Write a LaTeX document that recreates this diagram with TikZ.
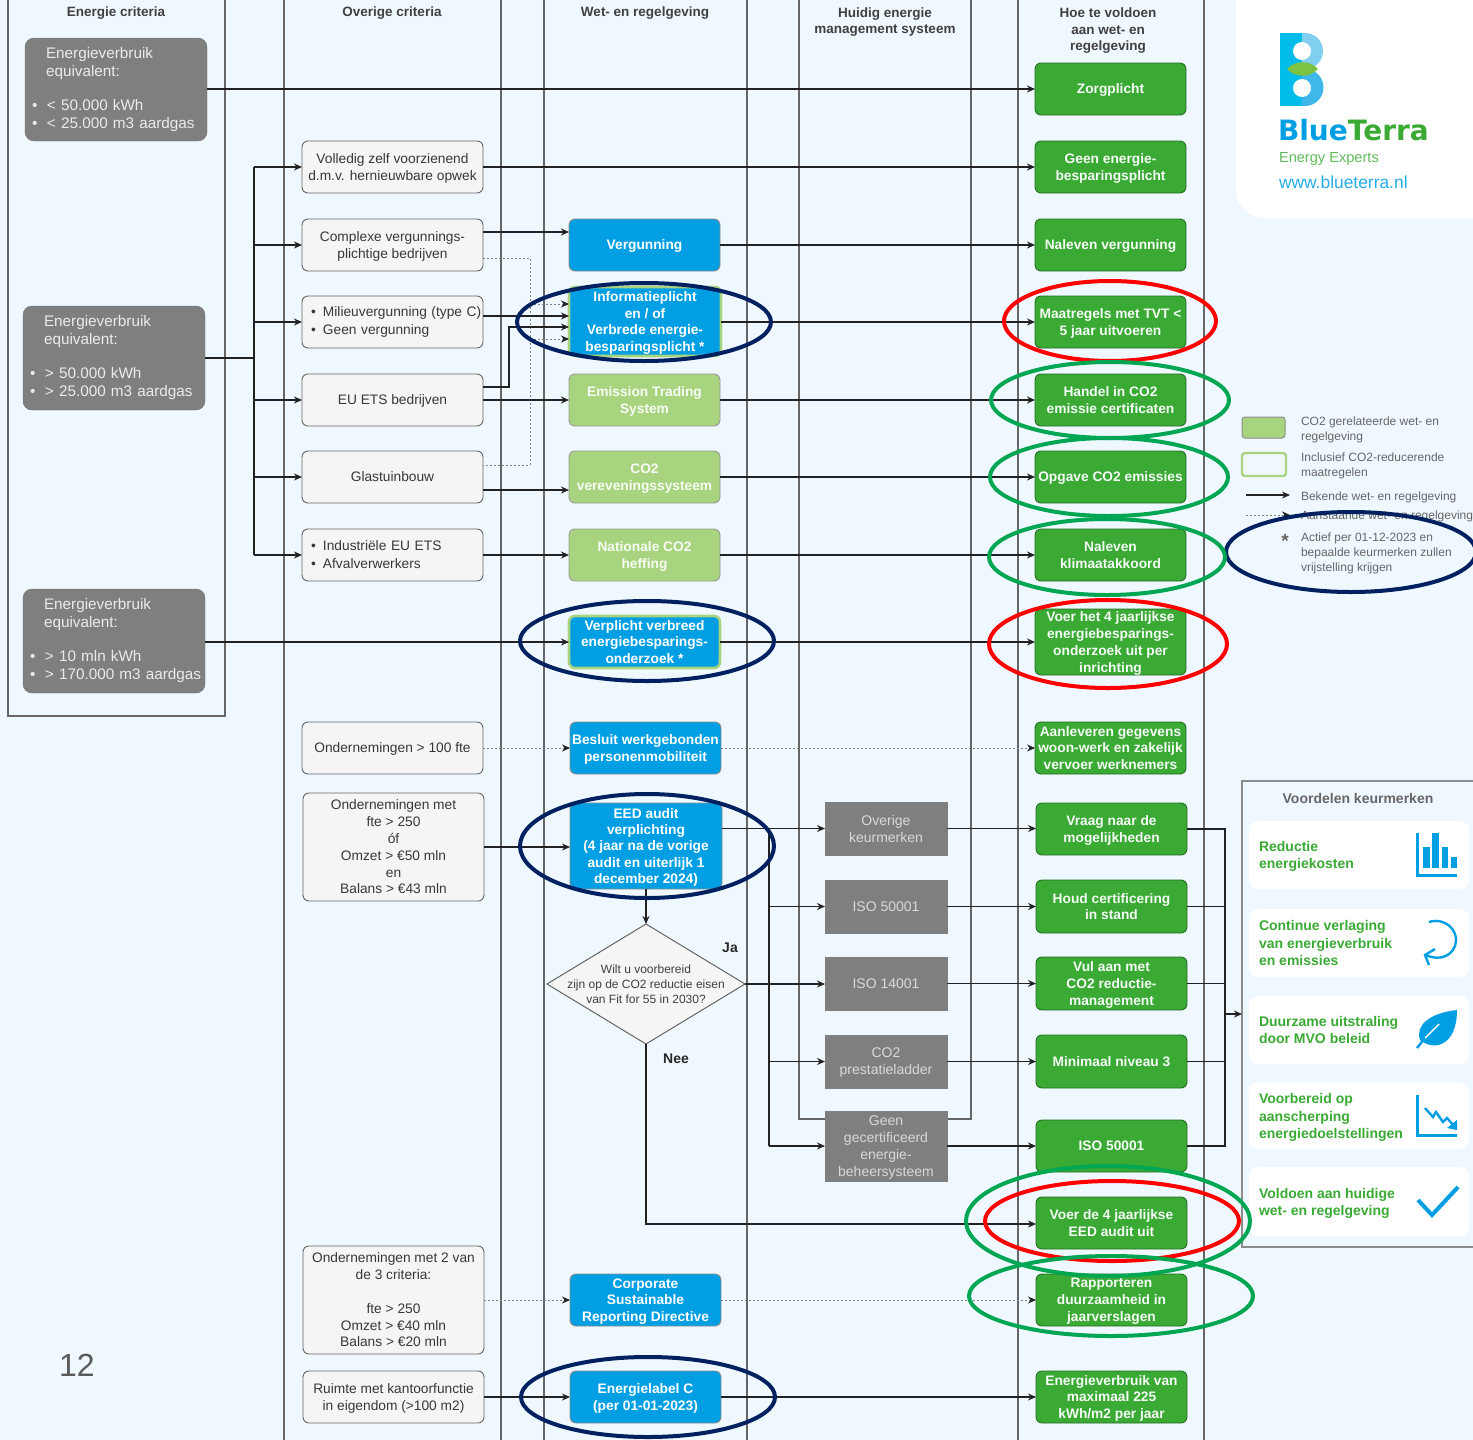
\documentclass[tikz,border=0pt]{standalone}
\usepackage{fontspec}
\setmainfont{Liberation Sans}
\newfontfamily\logofont{DejaVu Sans}
\usetikzlibrary{arrows.meta,shapes.geometric}
\definecolor{bgc}{HTML}{F0F8FF}
\definecolor{lanec}{HTML}{666666}
\definecolor{linec}{HTML}{222222}
\definecolor{bluec}{HTML}{009FE3}
\definecolor{greenc}{HTML}{3AAA35}
\definecolor{lgreenc}{HTML}{A9D47F}
\definecolor{grayc}{HTML}{7F7F7F}
\definecolor{lightc}{HTML}{F5F5F5}
\definecolor{navyc}{HTML}{002060}
\definecolor{redc}{HTML}{FF0000}
\definecolor{ringg}{HTML}{00A651}
\definecolor{lensc}{HTML}{7DC242}
\newcommand\bx[7]{\node[#2,minimum width={(#5-#3)*1pt},minimum height={(#6-#4)*1pt}] (#1) at ({(#3+#5)/2},{(#4+#6)/2}) {#7};}
\newcommand\bul{\makebox[12pt][l]{\textbullet}}
\newcommand\critbul{\hspace{4pt}\bul\hspace{3pt}}
\newcommand\listbul{\hspace{8pt}\bul}
\newcommand\ring[5]{\draw[#1,line width=4pt] (#2,#3) ellipse[x radius=#4,y radius=#5];}
\tikzset{
  base/.style={inner sep=0pt,outer sep=0pt,align=center,text depth=0pt,font=\fontsize{13.75}{16.8}\selectfont},
  critbox/.style={base,text depth=,fill=grayc,draw=grayc!90!black,rounded corners=9pt,text=white!92!black,align=left,text width=176pt,font=\fontsize{15.3}{18}\selectfont},
  lightbox/.style={base,fill=lightc,draw=lanec,line width=.9pt,rounded corners=6pt,text=black!78},
  lightlist/.style={base,text depth=,fill=lightc,draw=lanec,line width=.9pt,rounded corners=6pt,text=black!78,align=left,text width=179pt,font=\fontsize{13.75}{18}\selectfont},
  bluebox/.style={base,fill=bluec,draw=black!45,line width=.9pt,rounded corners=6pt,text=white,font=\fontsize{13.75}{16.4}\selectfont\bfseries},
  infobox/.style={base,fill=bluec,draw=lgreenc,line width=2.6pt,rounded corners=6pt,text=white,font=\fontsize{13.75}{16.8}\selectfont\bfseries},
  co2box/.style={base,fill=lgreenc,draw=black!40,line width=.9pt,rounded corners=6pt,text=white!92!lgreenc,font=\fontsize{13.75}{16.8}\selectfont\bfseries},
  doebox/.style={base,fill=greenc,draw=black!35!greenc,line width=.9pt,rounded corners=6pt,text=white!95!greenc,font=\fontsize{13.75}{16.8}\selectfont\bfseries},
  certbox/.style={base,fill=grayc,draw=grayc,text=white!85!black,font=\fontsize{14}{17}\selectfont},
  lane/.style={draw=lanec,line width=1.1pt},
  lanehead/.style={base,text=black!75,font=\fontsize{13.5}{16.5}\selectfont\bfseries},
  arr/.style={draw=linec,line width=1.3pt,-{Stealth[length=8pt,width=7pt]}},
  plain/.style={draw=linec,line width=1.3pt},
  dotarr/.style={draw=black!50,line width=1pt,dash pattern=on 2pt off 2pt,-{Stealth[length=8pt,width=7pt,color=linec]}},
  dotplain/.style={draw=black!50,line width=1pt,dash pattern=on 2pt off 2pt},
  legtext/.style={base,anchor=west,align=left,text=black!60,font=\fontsize{12}{15}\selectfont},
  cardtext/.style={base,anchor=west,align=left,text=greenc,font=\fontsize{14}{17.4}\selectfont\bfseries},
  card/.style={fill=white,rounded corners=9pt,draw=none},
  icon/.style={draw=bluec,line width=3pt},
}
\begin{document}
\begin{tikzpicture}[x=1pt,y=-1pt]
\useasboundingbox (0,0) rectangle (1473,1440);
\clip (0,0) rectangle (1473,1440);
\fill[bgc] (0,0) rectangle (1473,1440);

% lanes
\draw[lane] (8,-5) rectangle (225,716);
\draw[lane] (284,-5) rectangle (501,1445);
\draw[lane] (544,-5) rectangle (747,1445);
\draw[lane] (799,-5) rectangle (971,1119);
\draw[lane] (1018,-5) rectangle (1204,1445);
\node[lanehead] (h1) at (116,12) {Energie criteria};
\node[lanehead] (h2) at (392,12) {Overige criteria};
\node[lanehead] (h3) at (645,12) {Wet- en regelgeving};
\node[lanehead] (h4) at (885,20.5) {Huidig energie\\management systeem};
\node[lanehead] (h5) at (1108,29.5) {Hoe te voldoen\\aan wet- en\\regelgeving};

% logo panel
\fill[white,rounded corners=28pt] (1236,-40) rectangle (1520,218);
\fill[bluec!70!cyan] (1280,33) rectangle (1303,106);
\fill[bluec!50!white] (1302,33) -- (1305,33) arc[start angle=-90,end angle=90,radius=18] -- (1302,69) -- cycle;
\fill[bluec!75!white] (1302,69) -- (1305,69) arc[start angle=-90,end angle=90,radius=18.5] -- (1302,106) -- cycle;
\fill[white] (1302,51) circle[radius=9];
\fill[white] (1302,88) circle[radius=9];
\fill[lensc] (1287,69) .. controls (1295,60) and (1310,60) .. (1318,69) .. controls (1310,78) and (1295,78) .. (1287,69) -- cycle;
\node[base,anchor=west,font=\fontsize{28}{30}\logofont\bfseries] (logo) at (1278,130) {\textcolor{bluec}{Blue}\textcolor{greenc}{Terra}};
\node[base,anchor=west,text=greenc!80!white,font=\fontsize{14.6}{16}\selectfont] (logo2) at (1279,157) {Energy Experts};
\node[base,anchor=west,text=bluec!85!white,font=\fontsize{17.4}{18}\selectfont] (logo3) at (1279,182) {www.blueterra.nl};

% criteria
\bx{c1}{critbox}{25}{38}{207}{141}{\hspace{18pt}Energieverbruik\\\hspace{18pt}equivalent:\\[-1pt]\mbox{}\\[-1pt]\critbul< 50.000 kWh\\\critbul< 25.000 m3 aardgas}
\bx{c2}{critbox}{23}{306}{205}{410}{\hspace{18pt}Energieverbruik\\\hspace{18pt}equivalent:\\[-1pt]\mbox{}\\[-1pt]\critbul> 50.000 kWh\\\critbul> 25.000 m3 aardgas}
\bx{c3}{critbox}{23}{589}{205}{693}{\hspace{18pt}Energieverbruik\\\hspace{18pt}equivalent:\\[-1pt]\mbox{}\\[-1pt]\critbul> 10 mln kWh\\\critbul> 170.000 m3 aardgas}

% overige
\bx{o1}{lightbox}{302}{141}{483}{193}{Volledig zelf voorzienend\\d.m.v. hernieuwbare opwek}
\bx{o2}{lightbox}{302}{219}{483}{271}{Complexe vergunnings-\\plichtige bedrijven}
\bx{o3}{lightlist}{302}{296}{483}{348}{\listbul Milieuvergunning (type C)\\\listbul Geen vergunning}
\bx{o4}{lightbox}{302}{374}{483}{426}{EU ETS bedrijven}
\bx{o5}{lightbox}{302}{451}{483}{503}{Glastuinbouw}
\bx{o6}{lightlist}{302}{529}{483}{581}{\listbul Industriële EU ETS\\\listbul Afvalverwerkers}
\bx{o7}{lightbox}{302}{722}{483}{774}{Ondernemingen > 100 fte}
\bx{o8}{lightbox}{303}{793}{484}{901}{Ondernemingen met\\fte > 250\\óf\\Omzet > €50 mln\\en\\Balans > €43 mln}
\bx{o9}{lightbox}{303}{1246}{484}{1354}{Ondernemingen met 2 van\\de 3 criteria:\\\mbox{}\\fte > 250\\Omzet > €40 mln\\Balans > €20 mln}
\bx{o10}{lightbox}{303}{1371}{484}{1423}{Ruimte met kantoorfunctie\\in eigendom (>100 m2)}

% wet- en regelgeving
\bx{w1}{bluebox}{569}{219}{720}{271}{Vergunning}
\bx{w2}{infobox}{569}{287}{721}{356}{Informatieplicht\\en / of\\Verbrede energie-\\besparingsplicht *}
\bx{w3}{co2box}{569}{374}{720}{426}{Emission Trading\\System}
\bx{w4}{co2box}{569}{451}{720}{503}{CO2\\vereveningssysteem}
\bx{w5}{co2box}{569}{529}{720}{581}{Nationale CO2\\heffing}
\bx{w6}{infobox}{569}{616}{720}{668}{Verplicht verbreed\\energiebesparings-\\onderzoek *}
\bx{w7}{bluebox}{570}{722}{721}{774}{Besluit werkgebonden\\personenmobiliteit}
\bx{w8}{bluebox}{570}{803}{722}{889}{EED audit\\verplichting\\(4 jaar na de vorige\\audit en uiterlijk 1\\december 2024)}
\bx{w9}{bluebox}{570}{1274}{721}{1326}{Corporate\\Sustainable\\Reporting Directive}
\bx{w10}{bluebox}{570}{1371}{721}{1423}{Energielabel C\\(per 01-01-2023)}
\node[diamond,aspect=1.65,fill=lightc,draw=lanec,line width=1pt,inner sep=0pt,outer sep=0pt,minimum width=198pt,minimum height=120pt,
  label={[base,text=black!75,font=\fontsize{12}{15}\selectfont]center:Wilt u voorbereid\\zijn op de CO2 reductie eisen\\van Fit for 55 in 2030?}] (dia) at (646,984) {};
\node[base,font=\fontsize{14}{16}\selectfont\bfseries,text=black!85] (ja) at (730,948) {Ja};
\node[base,font=\fontsize{14}{16}\selectfont\bfseries,text=black!85] (nee) at (676,1059) {Nee};

% huidig
\bx{k1}{certbox}{825}{802}{947}{855}{Overige\\keurmerken}
\bx{k2}{certbox}{825}{880}{947}{933}{ISO 50001}
\bx{k3}{certbox}{825}{957}{947}{1010}{ISO 14001}
\bx{k4}{certbox}{825}{1035}{947}{1088}{CO2\\prestatieladder}
\bx{k5}{certbox}{825}{1111}{947}{1181}{Geen\\gecertificeerd\\energie-\\beheersysteem}

% hoe te voldoen
\bx{d1}{doebox}{1035}{63}{1186}{115}{Zorgplicht}
\bx{d2}{doebox}{1035}{141}{1186}{193}{Geen energie-\\besparingsplicht}
\bx{d3}{doebox}{1035}{219}{1186}{271}{Naleven vergunning}
\bx{d4}{doebox}{1035}{296}{1186}{348}{Maatregels met TVT <\\5 jaar uitvoeren}
\bx{d5}{doebox}{1035}{374}{1186}{426}{Handel in CO2\\emissie certificaten}
\bx{d6}{doebox}{1035}{451}{1186}{503}{Opgave CO2 emissies}
\bx{d7}{doebox}{1035}{529}{1186}{581}{Naleven\\klimaatakkoord}
\bx{d8}{doebox}{1035}{609}{1186}{675}{Voer het 4 jaarlijkse\\energiebesparings-\\onderzoek uit per\\inrichting}
\bx{d9}{doebox}{1035}{722}{1186}{774}{Aanleveren gegevens\\woon-werk en zakelijk\\vervoer werknemers}
\bx{d10}{doebox}{1036}{803}{1187}{855}{Vraag naar de\\mogelijkheden}
\bx{d11}{doebox}{1036}{880}{1187}{933}{Houd certificering\\in stand}
\bx{d12}{doebox}{1036}{957}{1187}{1010}{Vul aan met\\CO2 reductie-\\management}
\bx{d13}{doebox}{1036}{1035}{1187}{1088}{Minimaal niveau 3}
\bx{d14}{doebox}{1036}{1120}{1187}{1172}{ISO 50001}
\bx{d15}{doebox}{1036}{1197}{1187}{1249}{Voer de 4 jaarlijkse\\EED audit uit}
\bx{d16}{doebox}{1036}{1274}{1187}{1326}{Rapporteren\\duurzaamheid in\\jaarverslagen}
\bx{d17}{doebox}{1036}{1371}{1187}{1423}{Energieverbruik van\\maximaal 225\\kWh/m2 per jaar}

% keurmerken panel
\draw[draw=black!45,line width=1.2pt] (1480,781) -- (1242,781) -- (1242,1247) -- (1480,1247);
\coordinate (panelw) at (1242,1014);
\node[base,text=black!60,font=\fontsize{14}{16}\selectfont\bfseries] (vk) at (1358,798) {Voordelen keurmerken};
\fill[card] (1249,821) rectangle (1469,889);
\fill[card] (1249,909) rectangle (1469,977);
\fill[card] (1249,996) rectangle (1469,1064);
\fill[card] (1249,1082) rectangle (1469,1149);
\fill[card] (1249,1167) rectangle (1469,1236);
\node[cardtext] (t1) at (1259,855) {Reductie\\energiekosten};
\node[cardtext] (t2) at (1259,943) {Continue verlaging\\van energieverbruik\\en emissies};
\node[cardtext] (t3) at (1259,1030) {Duurzame uitstraling\\door MVO beleid};
\node[cardtext] (t4) at (1259,1116) {Voorbereid op\\aanscherping\\energiedoelstellingen};
\node[cardtext] (t5) at (1259,1202) {Voldoen aan huidige\\wet- en regelgeving};
% icons
\draw[icon] (1417,833) -- (1417,875) -- (1457,875);
\fill[bluec] (1423,847) rectangle (1430,868);
\fill[bluec] (1432,833) rectangle (1439,868);
\fill[bluec] (1442,847) rectangle (1448,868);
\fill[bluec] (1451,857) rectangle (1457,868);
\draw[icon,line width=2.4pt] (1429,922) .. controls (1445,917) and (1457,930) .. (1456,941) .. controls (1455,955) and (1440,962) .. (1426,955);
\draw[icon,line width=2.4pt] (1435,949) -- (1425,955) -- (1429,965);
\fill[bluec] (1457,1010) .. controls (1430,1013) and (1415,1025) .. (1420,1040) .. controls (1435,1052) and (1457,1045) .. (1457,1010) -- cycle;
\draw[icon,line width=2.4pt] (1417,1048) -- (1425,1038);
\draw[white,line width=1.4pt] (1425,1038) -- (1439,1024);
\draw[icon] (1417,1095) -- (1417,1135) -- (1457,1135);
\draw[bluec,line width=2.4pt] (1425,1108) -- (1433,1117) -- (1436,1112) -- (1443,1122) -- (1447,1118) -- (1455,1127);
\fill[bluec] (1457,1130) -- (1457,1120) -- (1447,1128) -- cycle;
\draw[bluec,line width=4pt] (1418,1200) -- (1432,1215) -- (1458,1187);

% legend
\fill[lgreenc,draw=black!45,line width=1pt,rounded corners=3pt] (1242,417) rectangle (1285,438);
\draw[lgreenc,line width=2.4pt,rounded corners=3pt] (1242,453) rectangle (1286,476);
\node[legtext] (l1) at (1301,428.5) {CO2 gerelateerde wet- en\\regelgeving};
\node[legtext] (l2) at (1301,465) {Inclusief CO2-reducerende\\maatregelen};
\coordinate (la1) at (1246,495); \coordinate (lb1) at (1290,495);
\coordinate (la2) at (1246,515); \coordinate (lb2) at (1290,515);
\node[legtext] (l3) at (1301,496) {Bekende wet- en regelgeving};
\node[legtext] (l4) at (1301,515) {Aanstaande wet- en regelgeving};
\draw[arr] (la1) -- (lb1);
\draw[dotarr] (la2) -- (lb2);
\node[base,text=black!60,font=\fontsize{19}{19}\selectfont\bfseries] (lstar) at (1285,541) {*};
\node[legtext] (l5) at (1301,552) {Actief per 01-12-2023 en\\bepaalde keurmerken zullen\\vrijstelling krijgen};

\node[base,text=black!65,font=\fontsize{32}{36}\selectfont] (pg) at (77,1365) {12};

% connectors
\draw[arr] (c1.east |- d1.west) -- (d1.west);
\coordinate (trunk) at (254,358);
\draw[plain,line width=1.8pt] (c2.east |- trunk) -- (trunk);
\draw[plain] (trunk |- o1.west) -- (trunk |- o6.west);
\foreach \o in {o1,o2,o3,o4,o5,o6} {\draw[arr] (trunk |- \o.west) -- (\o.west);}
\draw[arr] (o1.east) -- (d2.west);
\draw[arr] (o2.east |- 0,232) -- (w1.west |- 0,232);
\draw[arr] (w1.east) -- (d3.west);
\coordinate (dv) at (530,258);
\draw[dotplain] (o2.east |- dv) -- (dv) -- (dv |- 0,465) -- (o5.east |- 0,465);
\draw[dotarr] (dv |- 0,304) -- (w2.west |- 0,304);
\draw[dotarr] (dv |- 0,339) -- (w2.west |- 0,339);
\draw[arr] (o3.east |- 0,316) -- (w2.west |- 0,316);
\coordinate (ev) at (509,387);
\draw[arr] (o4.east |- ev) -- (ev) -- (ev |- 0,327) -- (w2.west |- 0,327);
\draw[arr] (o4.east) -- (w3.west);
\draw[arr] (w2.east |- d4.west) -- (d4.west);
\draw[arr] (w3.east) -- (d5.west);
\draw[arr] (o5.east |- 0,490) -- (w4.west |- 0,490);
\draw[arr] (w4.east) -- (d6.west);
\draw[arr] (o6.east) -- (w5.west);
\draw[arr] (w5.east) -- (d7.west);
\draw[arr] (c3.east |- w6.west) -- (w6.west);
\draw[arr] (w6.east) -- (d8.west |- w6.east);
\draw[dotarr] (o7.east) -- (w7.west);
\draw[dotarr] (w7.east) -- (d9.west);
\draw[arr] (o8.east) -- (w8.west |- o8.east);
\draw[arr] (dia.north |- w8.south) -- (dia.north);
\coordinate (bl) at (769,829);
\draw[plain] (bl) -- (bl |- k5.west);
\draw[arr] (w8.east |- k1.west) -- (k1.west);
\draw[arr] (bl |- k2.west) -- (k2.west);
\draw[arr] (dia.east) -- (k3.west |- dia.east);
\draw[arr] (bl |- k4.west) -- (k4.west);
\draw[arr] (bl |- k5.west) -- (k5.west);
\draw[arr] (k1.east) -- (d10.west |- k1.east);
\draw[arr] (k2.east) -- (d11.west |- k2.east);
\draw[arr] (k3.east) -- (d12.west |- k3.east);
\draw[arr] (k4.east) -- (d13.west |- k4.east);
\draw[arr] (k5.east) -- (d14.west);
\coordinate (br) at (1225,829);
\draw[plain] (d10.east) -- (br |- d10.east) -- (br |- d14.east) -- (d14.east);
\foreach \d in {d11,d12,d13} {\draw[plain] (\d.east) -- (br |- \d.east);}
\draw[arr] (br |- panelw) -- (panelw);
\draw[arr] (dia.south) -- (dia.south |- 0,1224) -- (d15.west |- 0,1224);
\draw[dotarr] (o9.east) -- (w9.west);
\draw[dotarr] (w9.east) -- (d16.west);
\draw[arr] (o10.east) -- (w10.west);
\draw[arr] (w10.east) -- (d17.west);

% highlight rings
\ring{navyc}{644}{322}{127}{39}
\ring{navyc}{647}{641}{127}{40}
\ring{navyc}{647}{846}{127}{52}
\ring{navyc}{648}{1397}{127}{40}
\ring{navyc}{1351}{552}{125}{40}
\ring{redc}{1110}{321}{106}{40}
\ring{redc}{1108}{644}{119}{44}
\ring{ringg}{1108}{1221}{142}{55}
\ring{redc}{1112}{1221}{127}{40}
\ring{ringg}{1110}{400}{119}{38}
\ring{ringg}{1109}{477}{119}{39}
\ring{ringg}{1107}{557}{118}{38}
\ring{ringg}{1111}{1296}{142}{40}
\end{tikzpicture}
\end{document}
